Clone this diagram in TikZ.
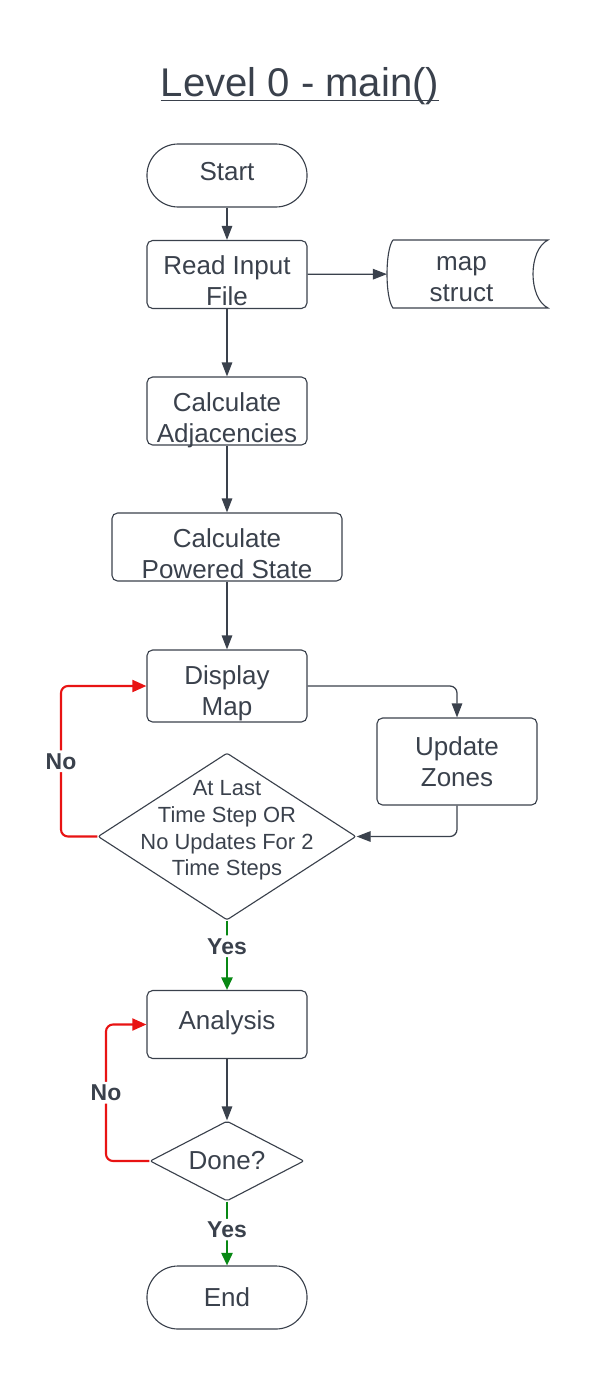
\documentclass[tikz,border=0pt]{standalone}
\usepackage{fontspec}
\setmainfont{Liberation Sans}
\usepackage{tikz}
\usetikzlibrary{positioning}
\usetikzlibrary{shapes}
\usetikzlibrary{arrows.meta}

\definecolor{ink}{RGB}{58,65,76}
\definecolor{nored}{RGB}{232,19,19}
\definecolor{yesgreen}{RGB}{8,136,20}

\tikzset{
  box/.style={draw=ink, line width=0.8pt, rounded corners=4pt, text=ink, align=center,
    inner sep=0pt, minimum width=4cm, minimum height=1.7cm,
    font=\fontsize{18.5}{22}\selectfont},
  twoline/.style={text height=44.6pt, text depth=0pt},
  oneline/.style={text height=13pt, text depth=6pt},
  terminal/.style={box, minimum height=1.575cm, rounded corners=0.78cm},
  decision/.style={draw=ink, line width=0.8pt, diamond, inner sep=0pt, rounded corners=1.5pt},
  smalltext/.style={text=ink, align=center, inner sep=0pt, font=\fontsize{15.6}{19}\selectfont},
  flow/.style={draw=ink, line width=0.9pt, rounded corners=5pt, -{Triangle[length=10pt,width=7.5pt]}},
  noflow/.style={flow, draw=nored, line width=1.5pt, -{Triangle[length=10pt,width=8.5pt]}},
  yesflow/.style={flow, draw=yesgreen, line width=1.5pt, -{Triangle[length=9pt,width=8pt]}},
  answer/.style={fill=white, text=ink, inner sep=2pt, font=\fontsize{16.3}{19}\selectfont\bfseries}
}

\begin{document}
\begin{tikzpicture}[x=0.025cm, y=-0.025cm]
\useasboundingbox (0,0) rectangle (600,1373);
%title
\node[text=ink, inner sep=0pt, anchor=base, font=\fontsize{28.5}{34}\selectfont] (title) at (300,97) {Level 0 - main()};
\draw[ink, line width=1.4pt] ([yshift=-2.5pt]title.base west) -- ([yshift=-2.5pt]title.base east);
%steps
\node[terminal, oneline] (start) at (227,175.5) {Start};
\node[box, twoline] (readin) at (227,274.5) {Read Input\\File};
\node[box, twoline] (adjac) at (227,411) {Calculate\\Adjacencies};
\node[box, twoline, minimum width=5.75cm] (powered) at (227,547) {Calculate\\Powered State};
\node[box, twoline, text height=41.6pt, minimum height=1.8cm] (display) at (227,686) {Display\\Map};
\node[box, minimum height=2.175cm] (update) at (457,761.5) {Update\\Zones};
\node[box, oneline] (analysis) at (227,1024.5) {Analysis};
\node[terminal] (end) at (227,1297.5) {End};
%stored data
\draw[ink, line width=0.8pt] (393,240) -- (548,240) .. controls (528,250) and (528,298) .. (548,308)
  -- (393,308) .. controls (385,298) and (385,250) .. (393,240);
\node[box, twoline, text height=39.6pt, draw=none, minimum width=3.7cm] (mapstruct) at (461.5,274) {map\\struct};
%decisions
\node[decision, minimum width=6.45cm, minimum height=4.175cm] (check) at (227,836.5) {};
\node[smalltext, yshift=4.3pt] (checktext) at (check) {At Last\\Time Step OR\\No Updates For 2\\Time Steps};
\node[decision, minimum width=3.85cm, minimum height=2cm] (done) at (227,1161) {};
\node[smalltext, font=\fontsize{18.5}{22}\selectfont] (donetext) at (done) {Done?};
%loop corners
\coordinate (noturn) at (61,836.5);
\coordinate (noturntwo) at (106,1161);
%connectors
\draw[flow] (start) -- (readin);
\draw[flow] (readin) -- (mapstruct);
\draw[flow] (readin) -- (adjac);
\draw[flow] (adjac) -- (powered);
\draw[flow] (powered) -- (display);
\draw[flow] (display.east) -| (update.north);
\draw[flow] (update.south) |- (check.east);
\draw[noflow] (check.west) -- (noturn) |- node[answer, pos=0.25] {No} (display.west);
\draw[yesflow] (check.south) -- node[answer, pos=0.37] {Yes} (analysis.north);
\draw[flow] (analysis) -- (done);
\draw[noflow] (done.west) -- (noturntwo) |- node[answer, pos=0.25] {No} (analysis.west);
\draw[yesflow] (done.south) -- node[answer, pos=0.44] {Yes} (end.north);
\end{tikzpicture}
\end{document}
